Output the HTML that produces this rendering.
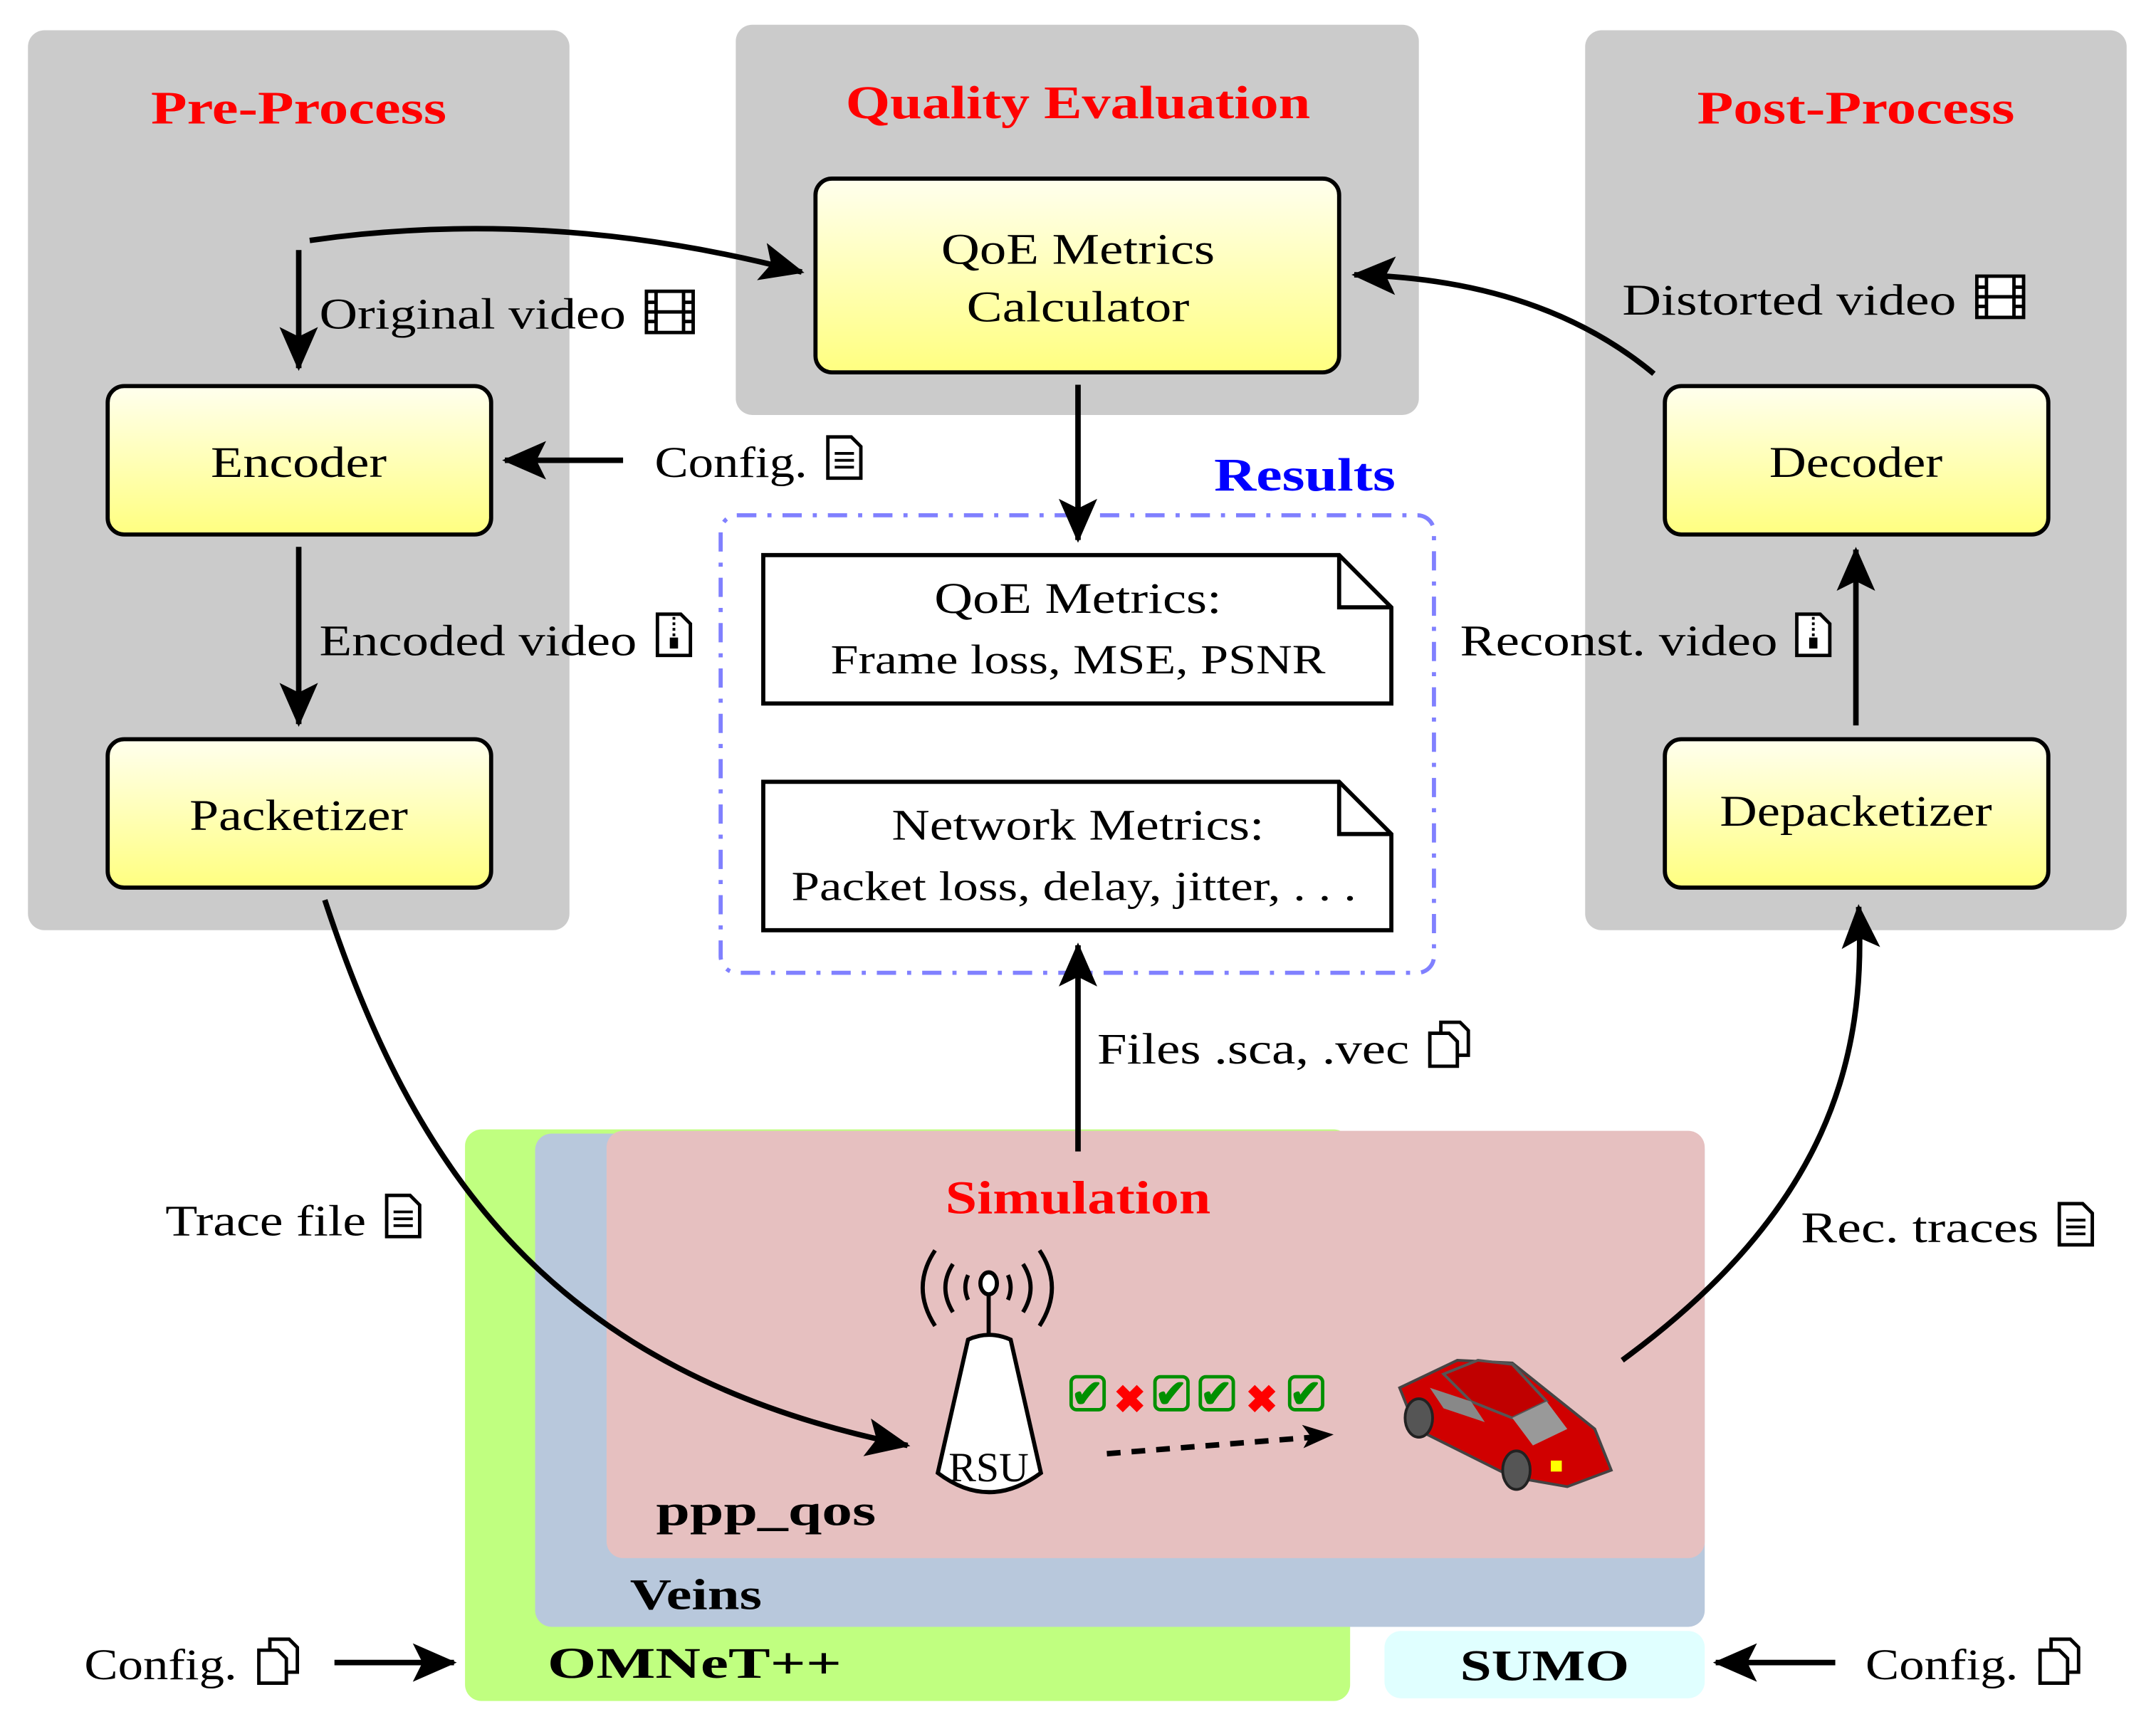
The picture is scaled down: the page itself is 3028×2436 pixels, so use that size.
<!DOCTYPE html>
<html><head><meta charset="utf-8"><style>
html,body{margin:0;padding:0;background:#fff;}
svg{display:block;}
text{font-family:"Liberation Serif",serif;}
</style></head><body>
<svg width="3028" height="2436" viewBox="0 0 1568 1262" xmlns="http://www.w3.org/2000/svg">
<defs>
<linearGradient id="yg" x1="0" y1="0" x2="0" y2="1"><stop offset="0" stop-color="#ffffee"/><stop offset="1" stop-color="#ffff80"/></linearGradient>
<marker id="ah" markerUnits="userSpaceOnUse" markerWidth="34" markerHeight="28" refX="30" refY="14" orient="auto"><path d="M0,0 L32,14 L0,28 L7,14 Z" fill="#000"/></marker>
<g id="doc"><path d="M0,0 H17 L24,7 V30 H0 Z" fill="#fff" stroke="#000" stroke-width="2.5"/><path d="M5,12 H19 M5,17 H19 M5,22 H19" stroke="#000" stroke-width="2"/></g>
<g id="zip"><path d="M0,0 H17 L24,7 V30 H0 Z" fill="#fff" stroke="#000" stroke-width="2.5"/><path d="M12,2 V16" stroke="#000" stroke-width="2" stroke-dasharray="2,2"/><rect x="9" y="17" width="6" height="8" fill="#000"/></g>
<g id="copy"><path d="M8,0 H22 L28,6 V24 H8 Z" fill="#fff" stroke="#000" stroke-width="2.5"/><path d="M0,8 H14 L20,14 V32 H0 Z" fill="#fff" stroke="#000" stroke-width="2.5"/></g>
<g id="film"><rect x="0" y="0" width="34" height="30" fill="#fff" stroke="#000" stroke-width="2.5"/><path d="M7,0 V30 M27,0 V30 M0,8 H7 M0,15 H7 M0,22 H7 M27,8 H34 M27,15 H34 M27,22 H34 M7,15 H27" stroke="#000" stroke-width="2.5"/></g>
</defs>

<rect x="20" y="22" width="394" height="655" rx="12" fill="#cbcbcb"/>
<rect x="535" y="18" width="497" height="284" rx="12" fill="#cbcbcb"/>
<rect x="1153" y="22" width="394" height="655" rx="12" fill="#cbcbcb"/>
<g font-size="34" font-weight="bold" fill="#ff0000" text-anchor="middle">
<text x="217" y="90" textLength="215" lengthAdjust="spacingAndGlyphs">Pre-Process</text>
<text x="784" y="86" textLength="338" lengthAdjust="spacingAndGlyphs">Quality Evaluation</text>
<text x="1350" y="90" textLength="231" lengthAdjust="spacingAndGlyphs">Post-Process</text>
</g>

<rect x="338" y="822" width="644" height="416" rx="12" fill="#c0ff80"/>
<rect x="389" y="825" width="851" height="359" rx="12" fill="#b8c8dc"/>
<rect x="441" y="823" width="799" height="311" rx="12" fill="#e6c0c0"/>
<rect x="1007" y="1187" width="233" height="49" rx="12" fill="#e0ffff"/>
<text x="784" y="883" text-anchor="middle" font-size="34" font-weight="bold" fill="#ff0000" textLength="193" lengthAdjust="spacingAndGlyphs">Simulation</text>
<g font-size="32" font-weight="bold">
<text x="477" y="1110" textLength="160" lengthAdjust="spacingAndGlyphs">ppp_qos</text>
<text x="458" y="1171" textLength="96" lengthAdjust="spacingAndGlyphs">Veins</text>
<text x="398" y="1221" textLength="214" lengthAdjust="spacingAndGlyphs">OMNeT++</text>
<text x="1062" y="1223" textLength="123" lengthAdjust="spacingAndGlyphs">SUMO</text>
</g>

<g font-size="32" text-anchor="middle">
<rect x="593" y="130" width="381" height="141" rx="12" fill="url(#yg)" stroke="#000" stroke-width="3"/>
<text x="784" y="192" textLength="199" lengthAdjust="spacingAndGlyphs">QoE Metrics</text>
<text x="784" y="234" textLength="162" lengthAdjust="spacingAndGlyphs">Calculator</text>
<rect x="78" y="281" width="279" height="108" rx="12" fill="url(#yg)" stroke="#000" stroke-width="3"/>
<text x="217" y="347" textLength="128" lengthAdjust="spacingAndGlyphs">Encoder</text>
<rect x="78" y="538" width="279" height="108" rx="12" fill="url(#yg)" stroke="#000" stroke-width="3"/>
<text x="217" y="604" textLength="159" lengthAdjust="spacingAndGlyphs">Packetizer</text>
<rect x="1211" y="281" width="279" height="108" rx="12" fill="url(#yg)" stroke="#000" stroke-width="3"/>
<text x="1350" y="347" textLength="126" lengthAdjust="spacingAndGlyphs">Decoder</text>
<rect x="1211" y="538" width="279" height="108" rx="12" fill="url(#yg)" stroke="#000" stroke-width="3"/>
<text x="1350" y="601" textLength="198" lengthAdjust="spacingAndGlyphs">Depacketizer</text>
</g>

<rect x="524" y="375" width="519" height="333" rx="12" fill="none" stroke="#8080ff" stroke-width="3" stroke-dasharray="14,8,3,8"/>
<text x="949" y="357" text-anchor="middle" font-size="34" font-weight="bold" fill="#0000ff" textLength="132" lengthAdjust="spacingAndGlyphs">Results</text>
<path d="M555,404 H974 L1012,442 V512 H555 Z" fill="#fff" stroke="#000" stroke-width="3"/>
<path d="M974,404 V442 H1012" fill="none" stroke="#000" stroke-width="3"/>
<path d="M555,569 H974 L1012,607 V677 H555 Z" fill="#fff" stroke="#000" stroke-width="3"/>
<path d="M974,569 V607 H1012" fill="none" stroke="#000" stroke-width="3"/>
<g text-anchor="middle">
<text x="784" y="446" font-size="32" textLength="209" lengthAdjust="spacingAndGlyphs">QoE Metrics:</text>
<text x="784" y="490" font-size="30" textLength="360" lengthAdjust="spacingAndGlyphs">Frame loss, MSE, PSNR</text>
<text x="784" y="611" font-size="32" textLength="271" lengthAdjust="spacingAndGlyphs">Network Metrics:</text>
<text x="781" y="655" font-size="30" textLength="411" lengthAdjust="spacingAndGlyphs">Packet loss, delay, jitter, . . .</text>
</g>

<g fill="none" stroke="#000" stroke-width="4">
<path d="M217,182 V268" marker-end="url(#ah)"/>
<path d="M225,175 Q400,150 583,198" marker-end="url(#ah)"/>
<path d="M453,335 H367" marker-end="url(#ah)"/>
<path d="M217,398 V527" marker-end="url(#ah)"/>
<path d="M784,280 V393" marker-end="url(#ah)"/>
<path d="M1203,272 Q1120,203 985,200" marker-end="url(#ah)"/>
<path d="M1350,528 V400" marker-end="url(#ah)"/>
<path d="M236,655 C300,850 400,1000 660,1052" marker-end="url(#ah)"/>
<path d="M784,838 V688" marker-end="url(#ah)"/>
<path d="M1180,990 C1330,880 1358,770 1352,660" marker-end="url(#ah)"/>
<path d="M243,1210 H330" marker-end="url(#ah)"/>
<path d="M1335,1210 H1248" marker-end="url(#ah)"/>
<path d="M805,1058 L955,1046" stroke-dasharray="10,8"/>
</g>
<path d="M947,1037 L970,1044 L948,1054 L953,1045 Z" fill="#000"/>

<g font-size="32">
<text x="232" y="239" textLength="223" lengthAdjust="spacingAndGlyphs">Original video</text><use href="#film" x="470" y="212"/>
<text x="476" y="347" textLength="111" lengthAdjust="spacingAndGlyphs">Config.</text><use href="#doc" x="602" y="318"/>
<text x="232" y="477" textLength="231" lengthAdjust="spacingAndGlyphs">Encoded video</text><use href="#zip" x="478" y="447"/>
<text x="1180" y="229" textLength="243" lengthAdjust="spacingAndGlyphs">Distorted video</text><use href="#film" x="1438" y="201"/>
<text x="1062" y="477" textLength="231" lengthAdjust="spacingAndGlyphs">Reconst. video</text><use href="#zip" x="1307" y="447"/>
<text x="798" y="774" textLength="227" lengthAdjust="spacingAndGlyphs">Files .sca, .vec</text><use href="#copy" x="1040" y="744"/>
<text x="120" y="899" textLength="146" lengthAdjust="spacingAndGlyphs">Trace file</text><use href="#doc" x="281" y="870"/>
<text x="1310" y="904" textLength="173" lengthAdjust="spacingAndGlyphs">Rec. traces</text><use href="#doc" x="1498" y="876"/>
<text x="61" y="1222" textLength="111" lengthAdjust="spacingAndGlyphs">Config.</text><use href="#copy" x="188" y="1193"/>
<text x="1357" y="1222" textLength="111" lengthAdjust="spacingAndGlyphs">Config.</text><use href="#copy" x="1484" y="1193"/>
</g>

<g fill="none" stroke="#000" stroke-width="3">
<path d="M680,910 Q662,937 680,965"/><path d="M693,920 Q682,937 693,955"/><path d="M704,928 Q700,937 704,946"/>
<path d="M756,910 Q774,937 756,965"/><path d="M744,920 Q755,937 744,955"/><path d="M733,928 Q737,937 733,946"/>
<path d="M719,942 V972"/>
</g>
<ellipse cx="719" cy="934" rx="6" ry="8" fill="#fff" stroke="#000" stroke-width="3"/>
<path d="M704,975 L682,1072 Q719,1100 757,1072 L735,975 Q719,968 704,975 Z" fill="#fff" stroke="#000" stroke-width="3"/>
<text x="719" y="1078" text-anchor="middle" font-size="30">RSU</text>

<g font-family="DejaVu Sans" font-size="28" font-weight="bold">
<rect x="779" y="1002" width="24" height="24" rx="4" fill="none" stroke="#009000" stroke-width="2.5"/><text x="779" y="1024" fill="#009000">✔</text>
<text x="810" y="1028" fill="#ff0000">✖</text>
<rect x="840" y="1002" width="24" height="24" rx="4" fill="none" stroke="#009000" stroke-width="2.5"/><text x="840" y="1024" fill="#009000">✔</text>
<rect x="873" y="1002" width="24" height="24" rx="4" fill="none" stroke="#009000" stroke-width="2.5"/><text x="873" y="1024" fill="#009000">✔</text>
<text x="906" y="1028" fill="#ff0000">✖</text>
<rect x="938" y="1002" width="24" height="24" rx="4" fill="none" stroke="#009000" stroke-width="2.5"/><text x="938" y="1024" fill="#009000">✔</text>
</g>

<g>
<path d="M1018,1010 L1060,990 L1100,992 L1160,1040 L1172,1070 L1140,1082 L1100,1075 L1030,1040 Z" fill="#d00000" stroke="#444" stroke-width="2"/>
<path d="M1050,1000 L1075,990 L1100,993 L1125,1020 L1100,1032 L1070,1020 Z" fill="#c00000" stroke="#555" stroke-width="2"/>
<path d="M1100,1032 L1125,1020 L1140,1040 L1115,1052 Z" fill="#999"/>
<path d="M1040,1010 L1070,1020 L1080,1035 L1050,1025 Z" fill="#888"/>
<ellipse cx="1032" cy="1032" rx="10" ry="14" fill="#555" stroke="#222" stroke-width="2"/>
<ellipse cx="1103" cy="1070" rx="10" ry="14" fill="#555" stroke="#222" stroke-width="2"/>
<rect x="1128" y="1063" width="8" height="8" fill="#ffff00"/>
</g>
</svg>
</body></html>
